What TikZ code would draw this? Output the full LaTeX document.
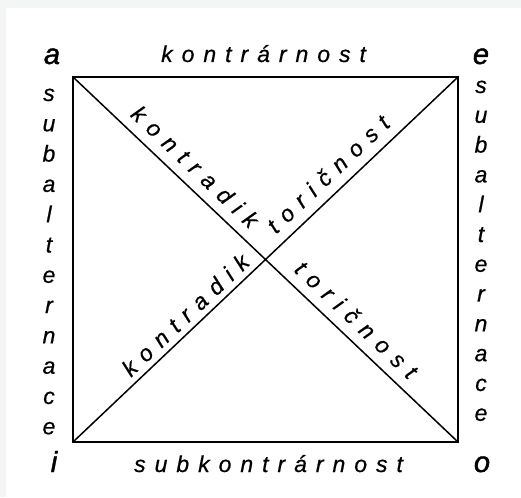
\documentclass[tikz,border=0pt]{standalone}
\usepackage{fontspec}
\setmainfont{Liberation Sans}
\newfontfamily\spacedfont{Liberation Sans}[LetterSpace=39, ItalicFeatures={FakeBold=0.6}]
\newfontfamily\itfont{Liberation Sans}[ItalicFeatures={FakeBold=0.6}]
\newfontfamily\cornerfont{Liberation Sans}[ItalicFeatures={FakeBold=1.4}]
\definecolor{band}{RGB}{244,246,246}
\newcommand\spcd[1]{#1\kern-0.39em}
\begin{document}
\begin{tikzpicture}[x=1pt,y=-1pt,
  lbl/.style={font=\spacedfont\itshape\fontsize{23}{26}\selectfont, inner sep=0pt},
  colletter/.style={font=\itfont\itshape\fontsize{23}{26}\selectfont, inner sep=0pt, anchor=base},
  cornerlbl/.style={font=\cornerfont\itshape\fontsize{29}{32}\selectfont, inner sep=0pt, anchor=base},
  diag/.style={lbl, sloped, above, inner xsep=0pt, text depth=0pt},
  sq/.style={line width=2pt, line join=miter},
  dg/.style={line width=1.5pt}]
\useasboundingbox (0,0) rectangle (521,497);
\fill[band] (0,0) rectangle (521,497);
\fill[white] (6,8) rectangle (521,497);
\coordinate (A) at (73,77);
\coordinate (E) at (458,77);
\coordinate (I) at (73,442);
\coordinate (O) at (458,442);
\draw[sq] (A) -- (E) -- (O) -- (I) -- cycle;
\draw[dg] (A) -- node[diag, pos=0.275, inner ysep=10pt] (k1) {\spcd{kontradik}}
                 node[diag, pos=0.694, inner ysep=10pt] (t2) {\spcd{toričnost}} (O);
\draw[dg] (I) -- node[diag, pos=0.31, inner ysep=6pt] (k2) {\spcd{kontradik}}
                 node[diag, pos=0.688, inner ysep=10pt] (t1) {\spcd{toričnost}} (E);
\node[cornerlbl] (la) at (52,64) {a};
\node[cornerlbl] (le) at (481,64) {e};
\node[cornerlbl] (li) at (54,472) {i};
\node[cornerlbl] (lo) at (482,472) {o};
\node[lbl, anchor=base west] (top) at (161,62) {kontrárnost};
\node[lbl, anchor=base west] (bot) at (134,472) {subkontrárnost};
\foreach \ch [count=\k from 0] in {s,u,b,a,l,t,e,r,n,a,c,e} {
  \node[colletter] (L\k) at (49,{101+30.3*\k}) {\ch};
  \node[colletter] (R\k) at (481,{93+29.8*\k}) {\ch};
}
\end{tikzpicture}
\end{document}
